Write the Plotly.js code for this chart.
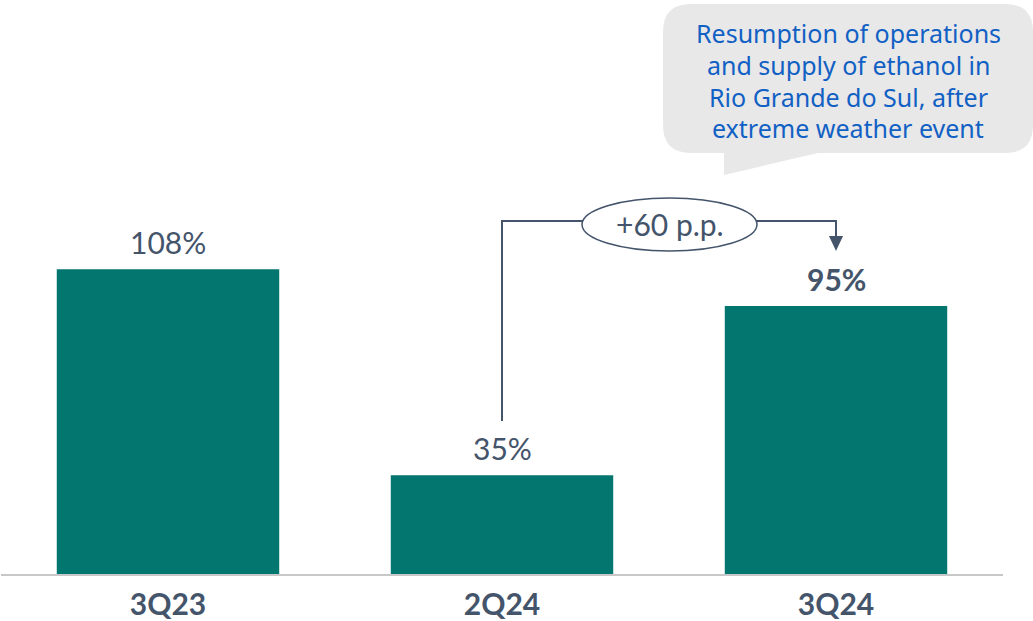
<!DOCTYPE html>
<html>
<head>
<meta charset="utf-8">
<script src="https://cdn.plot.ly/plotly-3.0.1.min.js"></script>
<style>html,body{margin:0;padding:0;background:#fff;}#chart{width:1033px;height:621px;}</style>
</head>
<body>
<div id="chart"></div>
<script>
const categories = ["3Q23", "2Q24", "3Q24"];
const values = [108, 35, 95];
const valueLabels = ["108%", "35%", "95%"];
const boldLabel = [false, false, true];
const deltaLabel = "+60 p.p.";
const calloutLines = ["Resumption of operations", "and supply of ethanol in", "Rio Grande do Sul, after", "extreme weather event"];

const W = 1033, H = 621;
const M = {l: 1, r: 30, t: 0, b: 47};
const PW = W - M.l - M.r, PH = H - M.t - M.b;
const px = x => (x - M.l) / PW;
const py = y => (H - M.b - y) / PH;

const TEXT = '#44546A';
const BAR = '#02766F';

const trace = {
  type: 'bar',
  x: categories,
  y: values,
  marker: {color: BAR, line: {width: 0}},
  width: 0.666,
  hoverinfo: 'none'
};

const annotations = values.map((v, i) => ({
  x: categories[i], y: v, xref: 'x', yref: 'y',
  text: boldLabel[i] ? '<b>' + valueLabels[i] + '</b>' : valueLabels[i],
  showarrow: false, yanchor: 'middle', yshift: 27,
  font: {family: 'Lato', size: 30, color: TEXT}
}));

annotations.push({
  x: px(669.5), y: py(224), xref: 'paper', yref: 'paper',
  text: deltaLabel, showarrow: false, xanchor: 'center', yanchor: 'middle',
  font: {family: 'Lato', size: 30, color: TEXT}
});

const lineY = [33, 65, 97, 128];
calloutLines.forEach((t, i) => annotations.push({
  x: px(848), y: py(lineY[i]), xref: 'paper', yref: 'paper',
  text: t, showarrow: false, xanchor: 'center', yanchor: 'middle',
  font: {family: 'Noto Sans', size: 25, color: '#1160C4'}
}));

function bubblePath() {
  const x0 = 663, x1 = 1033, y0 = 4, y1 = 153, r = 28;
  const P = (x, y) => px(x) + ',' + py(y);
  return 'M' + P(x0 + r, y0) +
    ' L' + P(x1 - r, y0) + ' Q' + P(x1, y0) + ' ' + P(x1, y0 + r) +
    ' L' + P(x1, y1 - r) + ' Q' + P(x1, y1) + ' ' + P(x1 - r, y1) +
    ' L' + P(818, y1) + ' L' + P(724, 175) + ' L' + P(724, y1) +
    ' L' + P(x0 + r, y1) + ' Q' + P(x0, y1) + ' ' + P(x0, y1 - r) +
    ' L' + P(x0, y0 + r) + ' Q' + P(x0, y0) + ' ' + P(x0 + r, y0) + ' Z';
}
function arrowHead() {
  const P = (x, y) => px(x) + ',' + py(y);
  return 'M' + P(829, 236) + ' L' + P(843, 236) + ' L' + P(836, 251) + ' Z';
}

const lineStyle = {color: TEXT, width: 2};
const shapes = [
  {type: 'path', xref: 'paper', yref: 'paper', path: bubblePath(), fillcolor: '#E8E8E8', line: {width: 0}, layer: 'below'},
  {type: 'line', xref: 'x', yref: 'paper', x0: 1, x1: 1, y0: py(421), y1: py(221), line: lineStyle},
  {type: 'line', xref: 'paper', yref: 'paper', x0: px(501), x1: px(583), y0: py(221), y1: py(221), line: lineStyle},
  {type: 'line', xref: 'paper', yref: 'paper', x0: px(756), x1: px(837), y0: py(221), y1: py(221), line: lineStyle},
  {type: 'line', xref: 'x', yref: 'paper', x0: 2, x1: 2, y0: py(220), y1: py(238), line: lineStyle},
  {type: 'path', xref: 'paper', yref: 'paper', path: arrowHead(), fillcolor: TEXT, line: {width: 0}},
  {type: 'circle', xref: 'paper', yref: 'paper', x0: px(582), x1: px(757), y0: py(251), y1: py(198), fillcolor: '#FFFFFF', line: {color: TEXT, width: 1.5}}
];

const layout = {
  width: W, height: H,
  margin: M,
  paper_bgcolor: '#FFFFFF', plot_bgcolor: '#FFFFFF',
  showlegend: false,
  bargap: 0.334,
  xaxis: {
    type: 'category', range: [-0.5, 2.5], fixedrange: true,
    showline: true, linecolor: '#C8C8C8', linewidth: 2,
    showgrid: false, zeroline: false, ticks: '',
    tickfont: {family: 'Lato', size: 30, color: TEXT, weight: 'bold'},
    ticklabelstandoff: 3
  },
  yaxis: {range: [0, 203.5], visible: false, showgrid: false, zeroline: false, fixedrange: true},
  annotations: annotations,
  shapes: shapes
};

Plotly.newPlot('chart', [trace], layout, {displayModeBar: false, staticPlot: true});
</script>
</body>
</html>
